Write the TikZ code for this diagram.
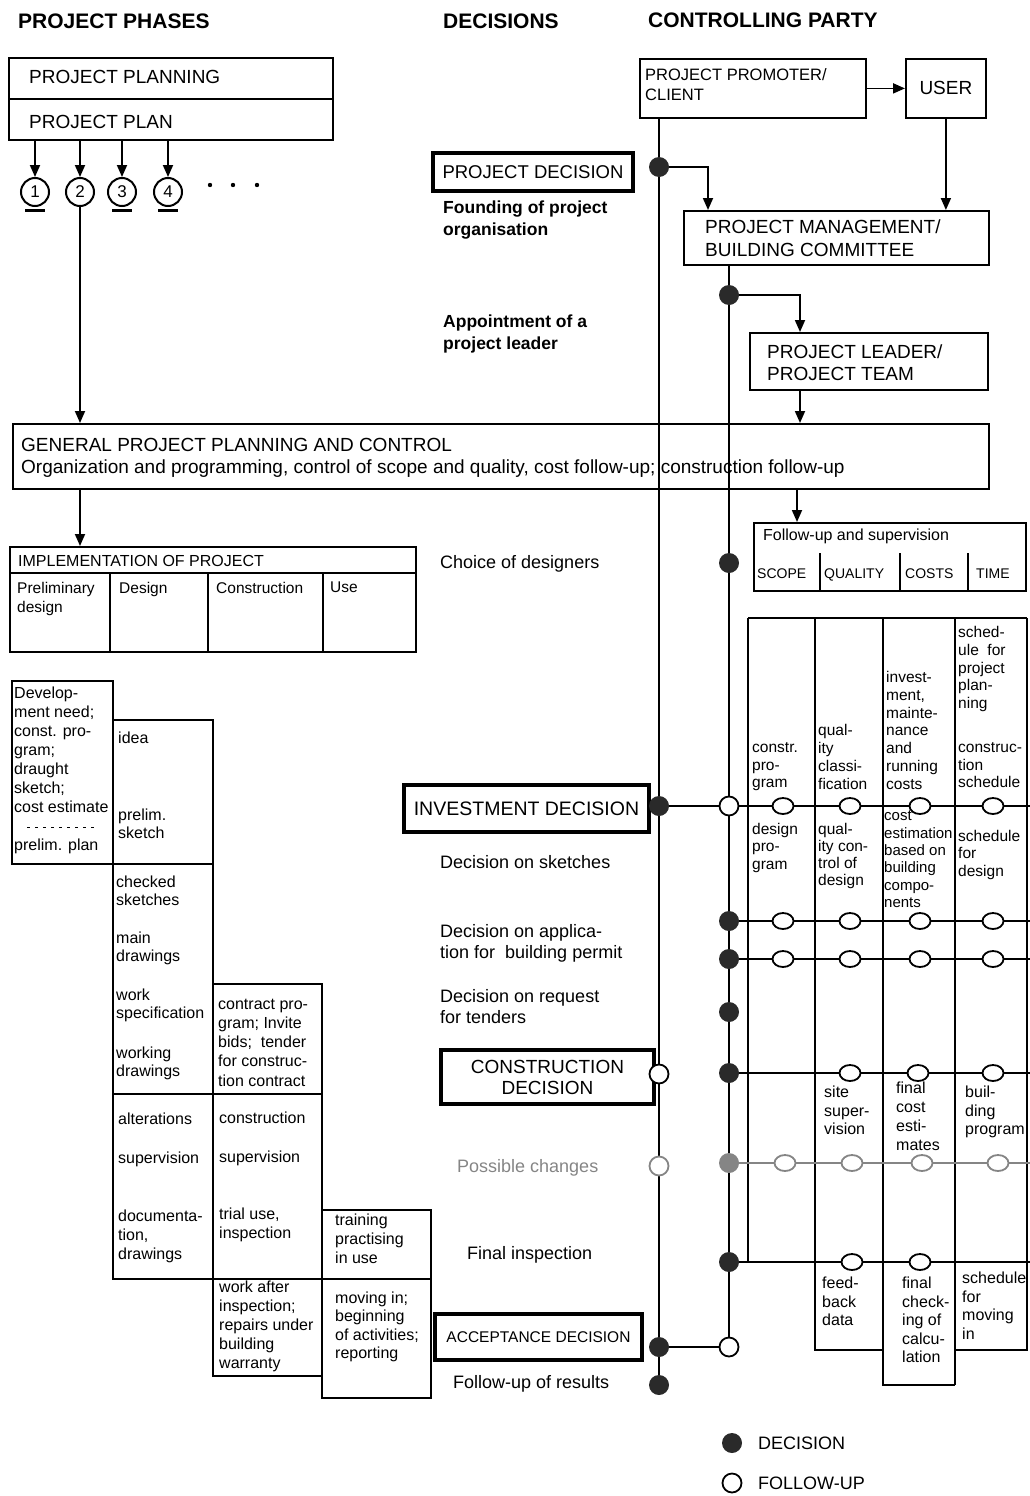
\documentclass[tikz,border=0pt]{standalone}
\usepackage{fontspec}
\setmainfont{Liberation Sans}
\usetikzlibrary{arrows.meta,shapes.geometric,calc}
\pgfdeclarelayer{bg}
\pgfsetlayers{bg,main}
\newcommand{\myfs}[2]{\fontsize{#1}{#2}\selectfont}
\definecolor{dk}{HTML}{2A2A2A}
\definecolor{gy}{HTML}{858585}
\begin{document}
\begin{tikzpicture}[x=1pt,y=-1pt,
  ln/.style={line width=1.8pt},
  box/.style={draw, line width=1.8pt, inner sep=0pt, anchor=north west},
  decbox/.style={draw, line width=4pt, inner sep=0pt, anchor=north west, align=center},
  txt/.style={inner sep=0pt, anchor=north west, align=left},
  dec/.style={circle, fill=dk, minimum size=20pt, inner sep=0pt},
  fol/.style={circle, draw, fill=white, line width=1.8pt, minimum size=19pt, inner sep=0pt},
  gfol/.style={ellipse, draw, fill=white, line width=1.8pt, minimum width=21pt, minimum height=16pt, inner sep=0pt},
  numc/.style={circle, draw, line width=2pt, minimum size=28pt, inner sep=0pt, font=\myfs{17}{19}},
  arr/.style={line width=1.8pt, -{Triangle[length=12pt,width=10pt]}},
  ttl/.style={inner sep=0pt, anchor=base west, font=\myfs{21}{25}\bfseries},
  gtxt/.style={txt, font=\myfs{15.5}{17.8}},
  gtxtb/.style={txt, font=\myfs{16}{18.5}},
  stxt/.style={txt, font=\myfs{16}{19}},
  dtxt/.style={txt, font=\myfs{18}{21}},
]
\useasboundingbox (0,0) rectangle (1030,1496);
\coordinate (redge) at (1030,0);

% ---------------- titles
\node[ttl] (tPhases) at (18,29) {PROJECT PHASES};
\node[ttl] (tDecisions) at (443,29) {DECISIONS};
\node[ttl] (tParty) at (648,28) {CONTROLLING PARTY};

% ---------------- project planning
\node[box, minimum width=324pt, minimum height=82pt] (plan) at (8,57) {};
\draw[ln] (8,99) -- (332,99);
\node[txt, anchor=base west, font=\myfs{19}{22}] (tPlanning) at (29,84) {PROJECT PLANNING};
\node[txt, anchor=base west, font=\myfs{19}{22}] (tPlan) at (29,128) {PROJECT PLAN};
\node[numc] (n1) at (35,192) {1};
\node[numc] (n2) at (80,192) {2};
\node[numc] (n3) at (122,192) {3};
\node[numc] (n4) at (168,192) {4};
\foreach \k in {n1,n3,n4}
  \draw[line width=3pt] ([xshift=-10pt,yshift=-3pt]\k.south) -- ([xshift=10pt,yshift=-3pt]\k.south);
\foreach \x in {210,233,257} \fill (\x,185) circle (2.2pt);

% ---------------- general
\node[box, minimum width=976pt, minimum height=65pt] (gen) at (12,423) {};
\node[txt, font=\myfs{19}{22}] (tGen) at (21,438.5) {GENERAL PROJECT PLANNING AND CONTROL\\Organization and programming, control of scope and quality, cost follow-up; construction follow-up};

% ---------------- implementation
\node[box, minimum width=406pt, minimum height=105pt] (impl) at (9,546) {};
\draw[ln] (9,573) -- (415,573);
\foreach \x in {110,208,323} \draw[ln] (\x,573) -- (\x,651);
\node[txt, anchor=base west, font=\myfs{16}{19}] (tImpl) at (18,566) {IMPLEMENTATION OF PROJECT};
\node[txt, font=\myfs{15.5}{19}] (tPre) at (17,582) {Preliminary\\design};
\node[txt, font=\myfs{15.5}{19}] (tDes) at (119,582) {Design};
\node[txt, font=\myfs{15.5}{19}] (tCon) at (216,582) {Construction};
\node[txt, font=\myfs{15.5}{19}] (tUse) at (330,582) {Use};

% ---------------- staircase
\node[box, minimum width=101pt, minimum height=183pt] (s1) at (11,680) {};
\node[stxt] (s1t) at (14,686.5) {Develop-\\ment need;\\const. pro-\\gram;\\draught\\sketch;\\cost estimate};
\draw[line width=1pt, dash pattern=on 3pt off 5pt] (27,827) -- (95,827);
\node[stxt] (s1u) at (14,838.5) {prelim. plan};

\node[box, minimum width=100pt, minimum height=144pt] (s2a) at (112,719) {};
\node[stxt] (s2a1) at (118,731.5) {idea};
\node[txt, font=\myfs{16}{18}] (s2a2) at (118,808.5) {prelim.\\sketch};

\node[box, minimum width=100pt, minimum height=230pt] (s2b) at (112,863) {};
\node[txt, font=\myfs{16}{18.5}] (s2b1) at (116,875.5) {checked\\sketches};
\node[txt, font=\myfs{16}{18.5}] (s2b2) at (116,931.5) {main\\drawings};
\node[txt, font=\myfs{16}{18.5}] (s2b3) at (116,988.5) {work\\specification};
\node[txt, font=\myfs{16}{18.5}] (s2b4) at (116,1046.5) {working\\drawings};

\node[box, minimum width=109pt, minimum height=110pt] (s3a) at (212,983) {};
\node[txt, font=\myfs{16}{19.3}] (s3at) at (218,998.5) {contract pro-\\gram; Invite\\bids;\ \ tender\\for construc-\\tion contract};

\node[box, minimum width=100pt, minimum height=185pt] (s2c) at (112,1093) {};
\node[stxt] (s2c1) at (118,1112.5) {alterations};
\node[stxt] (s2c2) at (118,1151.5) {supervision};
\node[stxt] (s2c3) at (118,1209.5) {documenta-\\tion,\\drawings};

\node[box, minimum width=109pt, minimum height=185pt] (s3b) at (212,1093) {};
\node[stxt] (s3b1) at (219,1111.5) {construction};
\node[stxt] (s3b2) at (219,1150.5) {supervision};
\node[stxt] (s3b3) at (219,1207.5) {trial use,\\inspection};

\node[box, minimum width=109pt, minimum height=97pt] (s3c) at (212,1278) {};
\node[stxt] (s3ct) at (219,1280.5) {work after\\inspection;\\repairs under\\building\\warranty};

\node[box, minimum width=109pt, minimum height=69pt] (s4a) at (321,1209) {};
\node[stxt] (s4at) at (335,1213.5) {training\\practising\\in use};

\node[box, minimum width=109pt, minimum height=119pt] (s4b) at (321,1278) {};
\node[txt, font=\myfs{16}{18.5}] (s4bt) at (335,1291.5) {moving in;\\beginning\\of activities;\\reporting};

% ---------------- decisions column
\node[decbox, minimum width=200pt, minimum height=38pt, font=\myfs{18.5}{21}] (pdec) at (431,151) {PROJECT DECISION};
\node[txt, font=\myfs{17.5}{22}\bfseries] (found) at (443,200.5) {Founding of project\\organisation};
\node[txt, font=\myfs{17.5}{22}\bfseries] (appt) at (443,314.5) {Appointment of a\\project leader};
\node[dtxt] (choice) at (440,555) {Choice of designers};
\node[decbox, minimum width=245pt, minimum height=47pt, font=\myfs{19.5}{22}] (inv) at (402,783) {INVESTMENT DECISION};
\node[dtxt] (dsk) at (440,855) {Decision on sketches};
\node[dtxt] (dapp) at (440,924) {Decision on applica-\\tion for\ \ building permit};
\node[dtxt] (dreq) at (440,989) {Decision on request\\for tenders};
\node[decbox, minimum width=213pt, minimum height=54pt, font=\myfs{19}{21}] (con) at (439,1048) {CONSTRUCTION\\DECISION};
\node[dtxt, text=gy] (chg) at (457,1159) {Possible changes};
\node[dtxt] (finsp) at (467,1246) {Final inspection};
\node[decbox, minimum width=207pt, minimum height=46pt, font=\myfs{15.5}{18}] (acc) at (433,1312) {ACCEPTANCE DECISION};
\node[dtxt] (fres) at (453,1375) {Follow-up of results};

% ---------------- controlling party
\node[box, minimum width=226pt, minimum height=59pt] (prom) at (639,58) {};
\node[txt, font=\myfs{16.5}{20}] (tProm) at (645,68) {PROJECT PROMOTER/\\CLIENT};
\node[box, minimum width=80pt, minimum height=59pt, font=\myfs{19}{22}] (user) at (905,58) {USER};
\node[box, minimum width=305pt, minimum height=54pt] (pm) at (683,210) {};
\node[txt, font=\myfs{19}{23}] (tPm) at (705,219.5) {PROJECT MANAGEMENT/\\BUILDING COMMITTEE};
\node[box, minimum width=238pt, minimum height=57pt] (pl) at (749,332) {};
\node[txt, font=\myfs{19}{22}] (tPl) at (767,344.5) {PROJECT LEADER/\\PROJECT TEAM};

\node[box, minimum width=272pt, minimum height=68pt] (fu) at (753,522) {};
\node[txt, font=\myfs{16}{19}] (tFu) at (763,528.5) {Follow-up and supervision};
\foreach \x in {820,900,968} \draw[ln] (\x,553) -- (\x,590);
\node[txt, anchor=base west, font=\myfs{14}{16}] (tScope) at (757,578) {SCOPE};
\node[txt, anchor=base west, font=\myfs{14}{16}] (tQual) at (824,578) {QUALITY};
\node[txt, anchor=base west, font=\myfs{14}{16}] (tCost) at (905,578) {COSTS};
\node[txt, anchor=base west, font=\myfs{14}{16}] (tTime) at (976,578) {TIME};

% grid texts
\node[gtxt] (g11) at (752,742) {constr.\\pro-\\gram};
\node[gtxt] (g12) at (818,724.5) {qual-\\ity\\classi-\\fication};
\node[gtxt] (g13) at (886,671) {invest-\\ment,\\mainte-\\nance\\and\\running\\costs};
\node[gtxt] (g14a) at (958,626) {sched-\\ule\ \ for\\project\\plan-\\ning};
\node[gtxt] (g14b) at (958,742) {construc-\\tion\\schedule};
\node[txt, font=\myfs{15.5}{17.5}] (g21) at (752,823) {design\\pro-\\gram};
\node[txt, font=\myfs{15.5}{17}] (g22) at (818,823) {qual-\\ity\ con-\\trol of\\design};
\node[txt, font=\myfs{15}{17.3}] (g23) at (884,811) {cost\\estimation\\based on\\building\\compo-\\nents};
\node[txt, font=\myfs{15.5}{17.5}] (g24) at (958,830) {schedule\\for\\design};
\node[gtxtb] (g32) at (824,1086) {site\\super-\\vision};
\node[txt, font=\myfs{16}{19}] (g33) at (896,1082) {final\\cost\\esti-\\mates};
\node[gtxtb] (g34) at (965,1086) {buil-\\ding\\program};
\node[gtxtb] (g42) at (822,1277) {feed-\\back\\data};
\node[gtxtb] (g43) at (902,1277) {final\\check-\\ing of\\calcu-\\lation};
\node[gtxtb] (g44) at (962,1272) {schedule\\for\\moving\\in};

% ---------------- dots on line A
\node[dec] (dA1) at (659,167) {};
\node[dec] (dA2) at (659,806) {};
\node[fol] (fA3) at (659,1074) {};
\node[fol, draw=gy] (fA4) at (659,1166) {};
\node[dec] (dA5) at (659,1347) {};
\node[dec] (dA6) at (659,1385) {};
% ---------------- dots on line B
\node[dec] (dB1) at (729,295) {};
\node[dec] (dB2) at (729,563) {};
\node[fol] (fB3) at (729,806) {};
\node[dec] (dB4) at (729,921) {};
\node[dec] (dB5) at (729,959) {};
\node[dec] (dB6) at (729,1012) {};
\node[dec] (dB7) at (729,1073) {};
\node[dec, fill=gy] (gB8) at (729,1163) {};
\node[dec] (dB9) at (729,1262) {};
\node[fol] (fB10) at (729,1347) {};

% grid circles
\foreach \x [count=\i] in {783,850,920,993} {
  \node[gfol] (c1\i) at (\x,806) {};
  \node[gfol] (c2\i) at (\x,921) {};
  \node[gfol] (c3\i) at (\x,959) {};
}
\node[gfol] (c42) at (850,1073) {};
\node[gfol] (c43) at (918,1073) {};
\node[gfol] (c44) at (993,1073) {};
\node[gfol, draw=gy] (c51) at (785,1163) {};
\node[gfol, draw=gy] (c52) at (852,1163) {};
\node[gfol, draw=gy] (c53) at (922,1163) {};
\node[gfol, draw=gy] (c54) at (998,1163) {};
\node[gfol] (c62) at (852,1262) {};
\node[gfol] (c63) at (920,1262) {};

% ---------------- legend
\node[dec] (legD) at (732,1443) {};
\node[fol] (legF) at (732,1483) {};
\node[txt, anchor=west, font=\myfs{18}{21}] (tLegD) at (758,1443) {DECISION};
\node[txt, anchor=west, font=\myfs{18}{21}] (tLegF) at (758,1483) {FOLLOW-UP};

% ---------------- connectors (background)
\begin{pgfonlayer}{bg}
  % left side
  \foreach \k in {n1,n2,n3,n4} \draw[arr] (\k |- plan.south) -- (\k.north);
  \draw[arr] (n2.south) -- (n2.south |- gen.north);
  \draw[arr] (n2 |- gen.south) -- (n2 |- impl.north);
  % main verticals
  \draw[ln] (prom.south -| dA1) -- (dA6);
  \draw[ln] (pm.south -| dB1) -- (fB10);
  % top arrows
  \draw[arr] (prom.east) -- (user.west);
  \draw[arr] (dA1) -| ([xshift=25pt]pm.north west);
  \draw[arr] (user.south) -- (user.south |- pm.north);
  \draw[arr] (dB1) -| ([xshift=51pt]pl.north west);
  \draw[arr] ([xshift=51pt]pl.south west) -- ([xshift=51pt]pl.south west |- gen.north);
  \draw[arr] ([xshift=44pt]fu.north west |- gen.south) -- ([xshift=44pt]fu.north west);
  % grid outline
  \draw[ln] (748,618) -- (1027,618);
  \draw[ln] (748,618) -- (748,1262);
  \draw[ln] (815,618) -- (815,1350) -- (883,1350);
  \draw[ln] (883,618) -- (883,1385) -- (955,1385);
  \draw[ln] (955,618) -- (955,1385);
  \draw[ln] (1027,618) -- (1027,1350) -- (955,1350);
  % horizontals
  \draw[ln] (dA2) -- (dA2 -| redge);
  \draw[ln] (dB4) -- (dB4 -| redge);
  \draw[ln] (dB5) -- (dB5 -| redge);
  \draw[ln] (dB7) -- (dB7 -| redge);
  \draw[ln, draw=gy] (gB8) -- (gB8 -| redge);
  \draw[ln] (dB9) -- (dB9 -| redge);
  \draw[ln] (dA5) -- (fB10);
\end{pgfonlayer}
\end{tikzpicture}
\end{document}
